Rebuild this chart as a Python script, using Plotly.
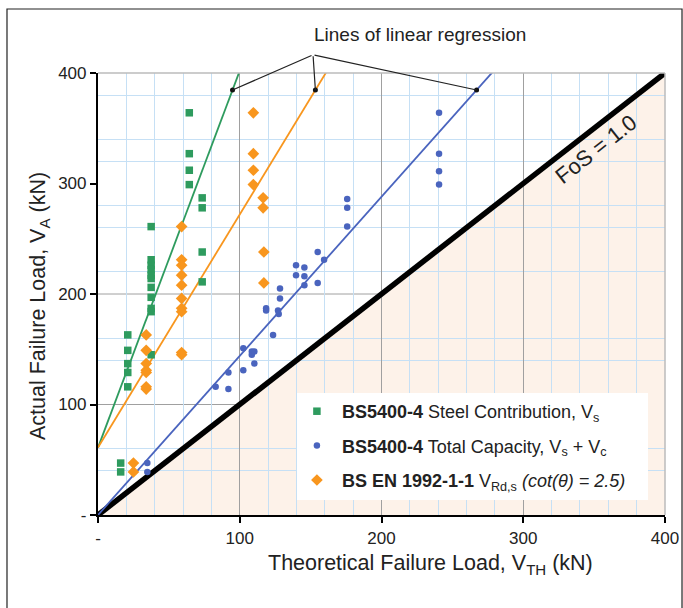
import plotly.graph_objects as go

# ---------------- data ----------------
steel_x = [16, 16, 21, 21, 21, 21, 21,
           37.5, 37.5, 37.5, 37.5, 37.5, 37.5, 37.5, 37.5, 37.5, 37.5, 37.5,
           64.4, 64.4, 64.4, 64.4, 73.5, 73.5, 73.5, 73.5]
steel_y = [47, 39, 163, 149, 137, 129, 116,
           261, 231, 226, 222, 217, 214, 206, 197, 187, 184, 145,
           364, 327, 312, 299, 287, 278, 238, 211]

total_x = [34.8, 34.8, 83, 92, 92, 102.5, 102.5, 108.5, 108.5, 110.3, 110.3,
           118.6, 118.6, 123.5, 127, 127.5, 128.4, 128.4, 139.7, 139.7,
           145.6, 145.6, 145.6, 155, 155, 159.5, 175.8, 175.8, 175.8,
           240.6, 240.6, 240.6, 240.6]
total_y = [47, 39, 116, 129, 114, 151, 131, 148, 145, 148, 137,
           187, 185, 163, 185, 182, 205, 196, 226, 217,
           224, 216, 208, 238, 210, 231, 286, 278, 261,
           364, 327, 311, 299]

ec2_x = [25, 25, 34, 34, 34, 34, 34, 34, 34,
         59, 59, 59, 59, 59, 59, 59, 59, 59, 59,
         109.6, 109.6, 109.6, 109.6, 116.5, 116.5, 117, 117]
ec2_y = [47, 39, 163, 149, 137, 131, 129, 116, 114,
         261, 231, 226, 217, 208, 196, 187, 184, 147, 145,
         364, 327, 312, 299, 287, 278, 238, 210]

# regression lines (intercept, slope)
steel_fit = (61, 3.41)
total_fit = (0, 1.44)
ec2_fit = (61, 2.11)

fos_line = [0, 400]
axis_ticks = [0, 100, 200, 300, 400]
axis_ticktext = ["-", "100", "200", "300", "400"]
y_major_grid = [100, 200]
y_minor_grid = [40, 60, 140, 160, 220, 260, 280, 320, 340, 380]
pointer_y = 384.6

names = [
    "<b>BS5400-4</b> Steel Contribution, V<sub>s</sub>",
    "<b>BS5400-4</b> Total Capacity, V<sub>s</sub> + V<sub>c</sub>",
    "<b>BS EN 1992-1-1</b> V<sub>Rd,s</sub> <i>(cot(θ) = 2.5)</i>",
]

GREEN = "#2E9B5E"
BLUE = "#4A64BE"
ORANGE = "#F8961E"
FONT = "Liberation Sans, Arial, sans-serif"
TXT = "#222222"
MAJOR = "#A0A0A0"

fig = go.Figure()

# FoS line
fig.add_trace(go.Scatter(x=fos_line, y=fos_line, mode="lines",
                         line=dict(color="black", width=5.5),
                         showlegend=False, hoverinfo="skip"))

# regression lines
xx = [0, 400]
for (b, m), col in [(steel_fit, GREEN), (ec2_fit, ORANGE), (total_fit, BLUE)]:
    fig.add_trace(go.Scatter(x=xx, y=[b + m * v for v in xx], mode="lines",
                             line=dict(color=col, width=1.8),
                             showlegend=False, hoverinfo="skip"))

# data
fig.add_trace(go.Scatter(x=steel_x, y=steel_y, mode="markers", name=names[0],
                         legendgroup="a",
                         marker=dict(symbol="square", size=7.5, color=GREEN)))
fig.add_trace(go.Scatter(x=total_x, y=total_y, mode="markers", name=names[1],
                         legendgroup="b",
                         marker=dict(symbol="circle", size=6.5, color=BLUE)))
fig.add_trace(go.Scatter(x=ec2_x, y=ec2_y, mode="markers", name=names[2],
                         legendgroup="c",
                         marker=dict(symbol="diamond", size=9, color=ORANGE)))

# pointer dots on regression lines
dots_x = [(pointer_y - b) / m for (b, m) in (steel_fit, ec2_fit, total_fit)]
fig.add_trace(go.Scatter(x=dots_x, y=[pointer_y] * 3, mode="markers",
                         marker=dict(size=5, color="#111"), showlegend=False,
                         hoverinfo="skip", cliponaxis=False))

apex = (151.7, 416.5)
annotations = []
for dx in dots_x:
    annotations.append(dict(x=dx, y=pointer_y, xref="x", yref="y",
                            ax=apex[0], ay=apex[1], axref="x", ayref="y",
                            text="", showarrow=True, arrowhead=0,
                            arrowwidth=1.2, arrowcolor="#222", standoff=0))
annotations += [
    dict(x=0.568, y=1.086, xref="paper", yref="paper", showarrow=False,
         xanchor="center", yanchor="middle",
         text="Lines of linear regression", font=dict(size=19, color=TXT, family=FONT)),
    dict(x=0.587, y=-0.113, xref="paper", yref="paper", showarrow=False,
         xanchor="center", yanchor="middle",
         text="Theoretical Failure Load, V<sub>TH</sub> (kN)",
         font=dict(size=21.5, color=TXT, family=FONT)),
    dict(x=-0.102, y=0.473, xref="paper", yref="paper", showarrow=False,
         xanchor="center", yanchor="middle",
         textangle=-90, text="Actual Failure Load, V<sub>A</sub> (kN)",
         font=dict(size=21.5, color=TXT, family=FONT)),
    dict(x=351, y=331, xref="x", yref="y", showarrow=False, textangle=-38,
         xanchor="center", yanchor="middle",
         text="FoS = 1.0", font=dict(size=22, color=TXT, family=FONT)),
]

r0, r1 = fos_line
shapes = [
    dict(type="path", xref="x", yref="y", layer="below",
         path=f"M {r0},{r0} L {r1},{r0} L {r1},{r1} Z",
         fillcolor="#FDF2E9", line=dict(width=0)),
]
for gv in y_major_grid:
    shapes.append(dict(type="line", xref="x domain", yref="y", x0=0, x1=1,
                       y0=gv, y1=gv, layer="below",
                       line=dict(color=MAJOR, width=1)))
shapes += [
    dict(type="line", xref="x domain", yref="y domain", x0=0, x1=1, y0=1, y1=1,
         line=dict(color="#BBBBBB", width=1.5), layer="above"),
    dict(type="line", xref="x domain", yref="y domain", x0=1, x1=1, y0=0, y1=1,
         line=dict(color="#BBBBBB", width=1.5), layer="above"),
    # white legend panel
    dict(type="rect", xref="paper", yref="paper", x0=0.351, x1=0.97,
         y0=0.034, y1=0.276, fillcolor="white", line=dict(width=0), layer="above"),
    dict(type="rect", xref="paper", yref="paper", x0=-0.1605, x1=1.03,
         y0=-0.3, y1=1.1448, line=dict(color="#222", width=1.2)),
]

axis_common = dict(
    range=[0, 400], tickmode="array", tickvals=axis_ticks, ticktext=axis_ticktext,
    showline=True, linecolor="black", linewidth=2.2, ticks="outside",
    ticklen=6, tickwidth=2, tickcolor="black",
    tickfont=dict(size=17, color=TXT, family=FONT),
    gridcolor=MAJOR, gridwidth=1, zeroline=False, fixedrange=True,
    automargin=False,
)

fig.update_layout(
    width=683, height=608,
    margin=dict(l=98, r=18, t=73, b=93, autoexpand=False),
    paper_bgcolor="white", plot_bgcolor="white",
    font=dict(family=FONT, color=TXT),
    xaxis=dict(**axis_common,
               minor=dict(dtick=20, tick0=0, showgrid=True,
                          gridcolor="#C6E0F5", gridwidth=1, ticks="")),
    yaxis=dict(**axis_common, showgrid=False,
               minor=dict(tickmode="array", tickvals=y_minor_grid, showgrid=True,
                          gridcolor="#C6E0F5", gridwidth=1, ticks="")),
    legend=dict(x=0.342, y=0.276, xanchor="left", yanchor="top",
                bgcolor="rgba(0,0,0,0)", borderwidth=0, tracegroupgap=8,
                itemwidth=40,
                font=dict(size=18, color=TXT, family=FONT)),
    annotations=annotations,
    shapes=shapes,
)

fig.write_html("out.html")
